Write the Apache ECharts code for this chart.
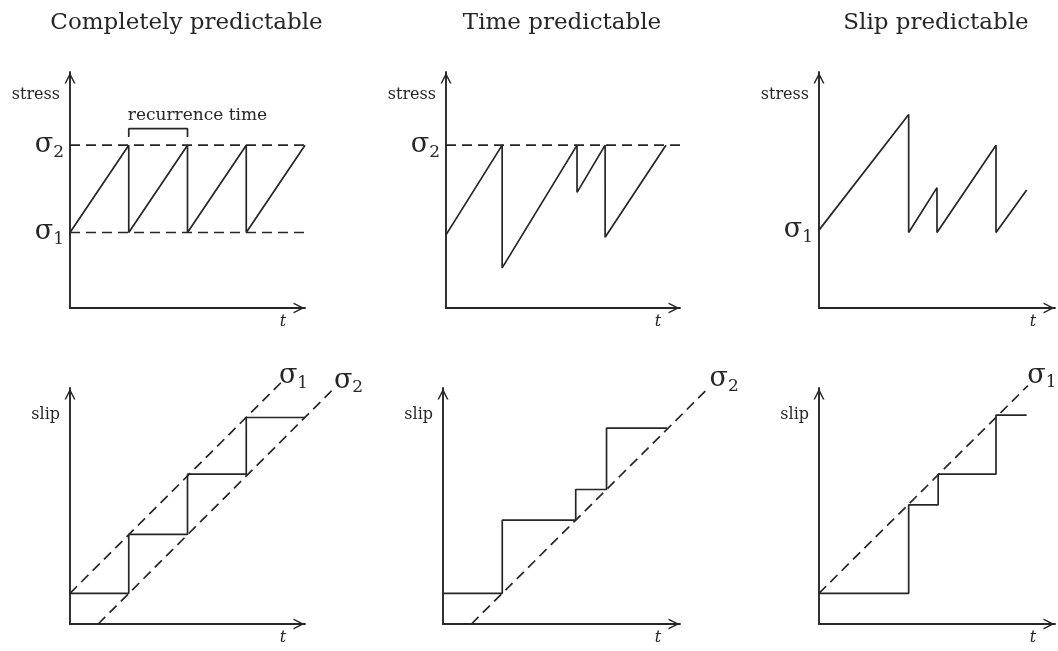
<!DOCTYPE html>
<html>
<head>
<meta charset="utf-8">
<script src="https://cdn.jsdelivr.net/npm/echarts@6/dist/echarts.min.js"></script>
<style>
  html, body { margin: 0; padding: 0; background: #fff; }
  #chart { width: 1058px; height: 651px; }
</style>
</head>
<body>
<div id="chart"></div>
<script>
// panel titles
const titles = ['Completely predictable', 'Time predictable', 'Slip predictable'];

// --- top row: stress vs t (units 0..100 along each axis) ---
const cpStress = [[0, 32], [25, 69], [25, 32], [50, 69], [50, 32], [75, 69], [75, 32], [100, 69]];
const cpSigma1 = [[0, 32], [100, 32]];
const cpSigma2 = [[0, 69], [100, 69]];
const cpBracket = [[25, 72.5], [25, 76], [50, 76], [50, 72.5]];

const tpStress = [[0, 31], [24, 69], [24, 17], [56, 69], [56, 49], [68, 69], [68, 30], [94, 69]];
const tpSigma2 = [[0, 69], [102, 69]];

const spStress = [[0, 33], [38, 82], [38, 32], [50, 51], [50, 32], [75, 69], [75, 32], [88, 50]];

// --- bottom row: slip vs t ---
const cpSlip = [[0, 13], [25, 13], [25, 38], [50, 38], [50, 63.5], [75, 63.5], [75, 87.5], [100, 87.5]];
const cpSlipS1 = [[0, 13], [90, 102.5]];
const cpSlipS2 = [[12, 0], [113, 100.5]];

const tpSlip = [[0, 13], [25, 13], [25, 44], [56, 44], [56, 57], [69, 57], [69, 83], [94.5, 83]];
const tpSlipS2 = [[12, 0], [111, 99]];

const spSlip = [[0, 13], [38, 13], [38, 50.5], [50.5, 50.5], [50.5, 63.5], [75, 63.5], [75, 88.5], [88, 88.5]];
const spSlipS1 = [[0, 13], [88.5, 101]];

const FONT = 'DejaVu Serif';
const INK = '#262626';
const chevron = 'path://M0,12 L6,0 L12,12 L10.3,12 L6,3.6 L1.7,12 Z';
const W = 1058;

// grid boxes (axis origin bottom-left, width/height in px)
const boxes = [
  { left: 70, top: 72, width: 235, height: 236 },
  { left: 446, top: 72, width: 234, height: 236 },
  { left: 819, top: 72, width: 236, height: 236 },
  { left: 70, top: 388, width: 235, height: 236 },
  { left: 443, top: 388, width: 237, height: 236 },
  { left: 819, top: 388, width: 236, height: 236 }
];
const yNames = ['stress', 'stress', 'stress', 'slip', 'slip', 'slip'];

// plotting grids reach a bit past the arrows, same scale
const overX = boxes.map(b => Math.min(1.2, (W - b.left) / b.width));
const overY = 1.2;

const rich = {
  s: { fontFamily: FONT, fontSize: 27, color: INK, lineHeight: 30 },
  n: { fontFamily: FONT, fontSize: 17, color: INK, lineHeight: 30, padding: [14, 0, 0, 0] }
};
const sig = n => '{s|σ}{n|' + n + '}';

function sigLabel(n, pos, extra) {
  return Object.assign({ show: true, formatter: sig(n), position: pos, distance: 6, rich: rich }, extra || {});
}

function line(p, pts, dashed, labels) {
  const g = p + 6;
  return {
    type: 'line',
    xAxisIndex: g,
    yAxisIndex: g,
    clip: false,
    silent: true,
    symbol: 'circle',
    symbolSize: 0,
    showSymbol: true,
    animation: false,
    lineStyle: { color: INK, width: 1.7, type: dashed ? [10, 6] : 'solid' },
    data: pts.map((pt, i) => {
      const d = { value: pt };
      if (labels && labels[i]) d.label = labels[i];
      return d;
    })
  };
}

const grid = boxes.map(b => Object.assign({ containLabel: false }, b)).concat(
  boxes.map((b, i) => ({
    left: b.left,
    top: b.top - (overY - 1) * b.height,
    width: b.width * overX[i],
    height: b.height * overY
  }))
);
const axisLine = {
  show: true,
  symbol: ['none', chevron],
  symbolSize: [11, 13],
  symbolOffset: [0, -6],
  lineStyle: { color: INK, width: 1.9 }
};
const xAxis = boxes.map((b, i) => ({
  gridIndex: i, type: 'value', min: 0, max: 100,
  axisLine: axisLine, axisTick: { show: false }, axisLabel: { show: false }, splitLine: { show: false },
  name: 't', nameLocation: 'end', nameGap: -22,
  nameTextStyle: { fontFamily: FONT, fontStyle: 'italic', fontSize: 16, color: INK, align: 'center', verticalAlign: 'top', padding: [6, 0, 0, 0] }
})).concat(boxes.map((b, i) => ({ gridIndex: i + 6, show: false, type: 'value', min: 0, max: 100 * overX[i] })));
const yAxis = boxes.map((b, i) => ({
  gridIndex: i, type: 'value', min: 0, max: 100,
  axisLine: axisLine, axisTick: { show: false }, axisLabel: { show: false }, splitLine: { show: false },
  name: yNames[i], nameLocation: 'end', nameGap: i < 3 ? -23 : -27,
  nameTextStyle: { fontFamily: FONT, fontSize: 16, color: INK, align: 'right', verticalAlign: 'middle', padding: [0, 10, 0, 0] }
})).concat(boxes.map((b, i) => ({ gridIndex: i + 6, show: false, type: 'value', min: 0, max: 100 * overY })));

const series = [
  line(0, cpSigma1, true, [sigLabel(1, 'left')]),
  line(0, cpSigma2, true, [sigLabel(2, 'left')]),
  line(0, cpStress, false),
  line(0, cpBracket, false, [{
    show: true, formatter: 'recurrence time', position: 'top', align: 'left', distance: 13, offset: [-1, 0],
    fontFamily: FONT, fontSize: 17, color: INK
  }]),
  line(1, tpSigma2, true, [sigLabel(2, 'left')]),
  line(1, tpStress, false),
  line(2, spStress, false, [sigLabel(1, 'left')]),
  line(3, cpSlip, false),
  line(3, cpSlipS1, true, [null, sigLabel(1, 'top', { distance: 0, offset: [12, 9] })]),
  line(3, cpSlipS2, true, [null, sigLabel(2, 'top', { distance: 0, offset: [13, 9] })]),
  line(4, tpSlip, false),
  line(4, tpSlipS2, true, [null, sigLabel(2, 'top', { distance: 0, offset: [18, 4] })]),
  line(5, spSlip, false),
  line(5, spSlipS1, true, [null, sigLabel(1, 'top', { distance: 0, offset: [14, 5] })])
];

const title = titles.map((t, i) => ({
  text: t,
  left: boxes[i].left + boxes[i].width / 2 - 6,
  top: 7,
  textAlign: 'center',
  textStyle: { fontFamily: FONT, fontSize: 23, fontWeight: 'normal', color: INK }
}));

const myChart = echarts.init(document.getElementById('chart'), null, { renderer: 'canvas' });
myChart.setOption({
  backgroundColor: '#fff',
  animation: false,
  title: title,
  grid: grid,
  xAxis: xAxis,
  yAxis: yAxis,
  series: series
});
</script>
</body>
</html>
